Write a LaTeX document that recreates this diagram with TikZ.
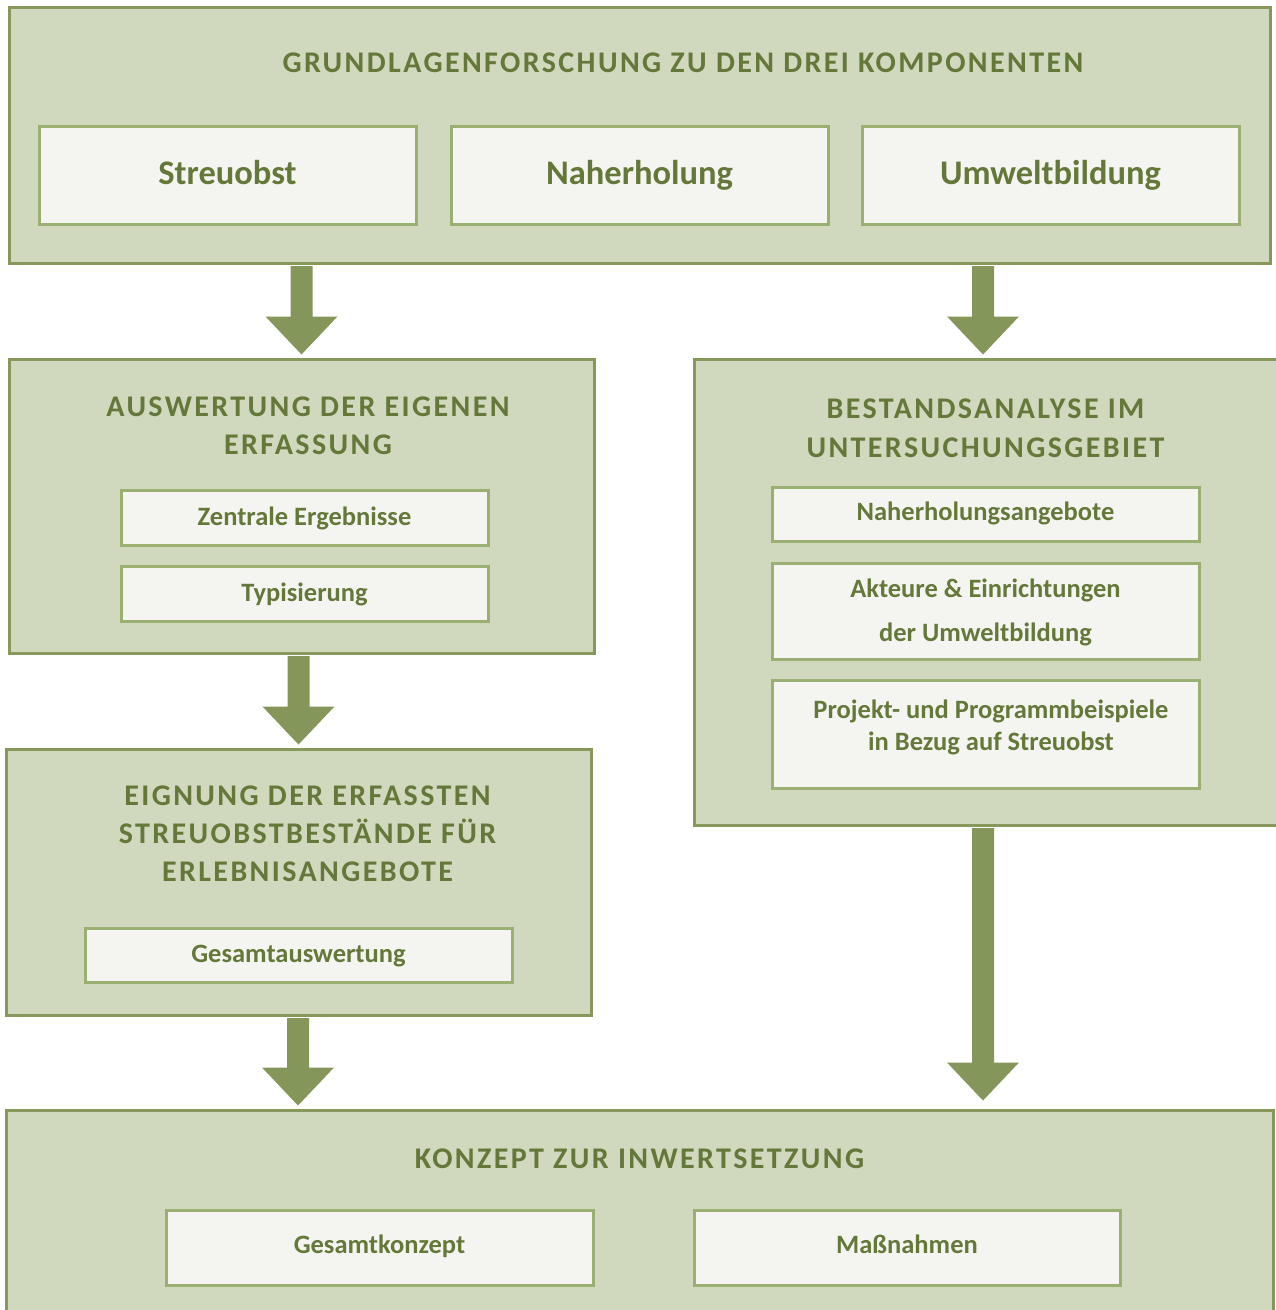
\documentclass[tikz,border=0pt]{standalone}
\usepackage{fontspec}
\setmainfont{Carlito}
\newfontfamily\ttlfont{Carlito}[LetterSpace=8]
\usetikzlibrary{calc}
\definecolor{boxfill}{HTML}{D0D8BE}
\definecolor{boxline}{HTML}{86995A}
\definecolor{infill}{HTML}{F4F5F0}
\definecolor{inline}{HTML}{9AAF72}
\definecolor{txtc}{HTML}{637839}
\definecolor{arrc}{HTML}{84965A}
\begin{document}
\begin{tikzpicture}[x=1pt,y=-1pt,
  outerbox/.style={draw=boxline, fill=boxfill, line width=3pt, inner sep=0pt},
  innerbox/.style={draw=inline, fill=infill, line width=3pt, inner sep=0pt},
  ttl/.style={text=txtc, font=\ttlfont\bfseries\fontsize{30}{38}\selectfont, align=center, inner sep=0pt},
  bigtxt/.style={text=txtc, font=\bfseries\fontsize{34.5}{40}\selectfont, anchor=base, inner sep=0pt},
  smalltxt/.style={text=txtc, font=\bfseries\fontsize{26.5}{31}\selectfont, anchor=base, inner sep=0pt},
  fatarrow/.style={to path={let \p1=(\tikztostart), \p2=(\tikztotarget) in
    (\x1-11,\y1-1.5) -- (\x1-11,\y2+41) -- (\x1-36,\y2+41) -- (\x1,\y2+3)
    -- (\x1+36,\y2+41) -- (\x1+11,\y2+41) -- (\x1+11,\y1-1.5) -- cycle}}
]
\useasboundingbox (0,0) rectangle (1276,1310);

% top block
\node[outerbox, minimum width=1261pt, minimum height=256pt] (top) at (639.5,135) {};
\node[ttl, anchor=base] (toptitle) at (683,72.5) {GRUNDLAGENFORSCHUNG ZU DEN DREI KOMPONENTEN};
\node[innerbox, minimum width=377pt, minimum height=98pt] (k1) at (227.5,175) {};
\node[innerbox, minimum width=377pt, minimum height=98pt] (k2) at (639.5,175) {};
\node[innerbox, minimum width=377pt, minimum height=98pt] (k3) at (1050.5,175) {};
\node[bigtxt] (k1t) at (227.5,184) {Streuobst};
\node[bigtxt] (k2t) at (639.5,184) {Naherholung};
\node[bigtxt] (k3t) at (1050.5,184) {Umweltbildung};

% Auswertung
\node[outerbox, minimum width=585pt, minimum height=294pt] (ausw) at (301.5,506) {};
\node[ttl, anchor=base] (auswt1) at (308,416.5) {AUSWERTUNG DER EIGENEN};
\node[ttl, anchor=base] (auswt2) at (308,454.5) {ERFASSUNG};
\node[innerbox, minimum width=367pt, minimum height=55pt] (a1) at (304.5,517.5) {};
\node[innerbox, minimum width=367pt, minimum height=55pt] (a2) at (304.5,593.5) {};
\node[smalltxt] (a1t) at (304.5,525.5) {Zentrale Ergebnisse};
\node[smalltxt] (a2t) at (304.5,601.5) {Typisierung};

% Eignung
\node[outerbox, minimum width=585pt, minimum height=266pt] (eign) at (298.5,882) {};
\node[ttl, anchor=base] (eignt1) at (307.5,805.5) {EIGNUNG DER ERFASSTEN};
\node[ttl, anchor=base] (eignt2) at (307.5,843.5) {STREUOBSTBESTÄNDE FÜR};
\node[ttl, anchor=base] (eignt3) at (307.5,881.5) {ERLEBNISANGEBOTE};
\node[innerbox, minimum width=427pt, minimum height=54pt] (e1) at (298.5,955) {};
\node[smalltxt] (e1t) at (298.5,962) {Gesamtauswertung};

% Bestandsanalyse
\node[outerbox, minimum width=590pt, minimum height=466pt] (best) at (989,592) {};
\node[ttl, anchor=base] (bestt1) at (985.5,418) {BESTANDSANALYSE IM};
\node[ttl, anchor=base] (bestt2) at (985.5,457) {UNTERSUCHUNGSGEBIET};
\node[innerbox, minimum width=427pt, minimum height=54pt] (b1) at (985.5,514) {};
\node[innerbox, minimum width=427pt, minimum height=96pt] (b2) at (985.5,611) {};
\node[innerbox, minimum width=427pt, minimum height=108pt] (b3) at (985.5,734) {};
\node[smalltxt] (b1t) at (985.5,520.5) {Naherholungsangebote};
\node[smalltxt] (b2t1) at (985.5,597.5) {Akteure \& Einrichtungen};
\node[smalltxt] (b2t2) at (985.5,641.5) {der Umweltbildung};
\node[smalltxt] (b3t1) at (991,718) {Projekt- und Programmbeispiele};
\node[smalltxt] (b3t2) at (991,750) {in Bezug auf Streuobst};

% Konzept
\node[outerbox, minimum width=1267pt, minimum height=210pt] (konz) at (639.5,1215) {};
\node[ttl, anchor=base] (konzt) at (639.5,1168) {KONZEPT ZUR INWERTSETZUNG};
\node[innerbox, minimum width=427pt, minimum height=75pt] (c1) at (379.5,1247.5) {};
\node[innerbox, minimum width=426pt, minimum height=75pt] (c2) at (907,1247.5) {};
\node[smalltxt] (c1t) at (379.5,1253) {Gesamtkonzept};
\node[smalltxt] (c2t) at (907,1253) {Maßnahmen};

% arrows
\fill[arrc] (top.south -| ausw.north) to[fatarrow] (ausw.north);
\fill[arrc] (top.south -| 983,0) to[fatarrow] (best.north -| 983,0);
\fill[arrc] (ausw.south -| eign.north) to[fatarrow] (eign.north);
\fill[arrc] (eign.south -| 298,0) to[fatarrow] (konz.north -| 298,0);
\fill[arrc] (best.south -| 983,0) to[fatarrow] ($(konz.north -| 983,0)+(0,-5)$);
\end{tikzpicture}
\end{document}
